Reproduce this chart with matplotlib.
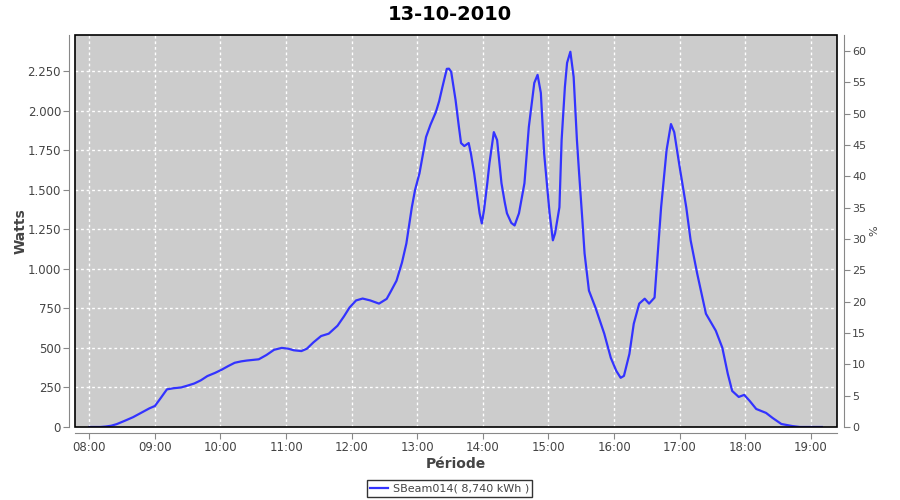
import matplotlib
matplotlib.use("Agg")
import matplotlib.pyplot as plt
from matplotlib.patches import Rectangle
from matplotlib.ticker import FuncFormatter

# Data (time of day, watts)
times = ["08:00", "08:10", "08:15", "08:20", "08:25", "08:32", "08:40", "08:48", "08:55",
         "09:00", "09:05", "09:11", "09:17", "09:24", "09:30", "09:36", "09:42", "09:48",
         "09:55", "10:01", "10:07", "10:13", "10:19", "10:24", "10:35", "10:42", "10:49",
         "10:56", "11:02", "11:07", "11:14", "11:19", "11:25", "11:32", "11:39", "11:47",
         "11:53", "11:58", "12:04", "12:10", "12:17", "12:25", "12:32", "12:36", "12:41",
         "12:46", "12:50", "12:55", "12:58", "13:02", "13:05", "13:08", "13:12", "13:17",
         "13:20", "13:23", "13:27", "13:29", "13:31", "13:35", "13:38", "13:40", "13:43",
         "13:47", "13:49", "13:52", "13:57", "13:59", "14:01", "14:04", "14:06", "14:10",
         "14:13", "14:17", "14:20", "14:22", "14:26", "14:29", "14:33", "14:38", "14:42",
         "14:47", "14:50", "14:53", "14:56", "15:01", "15:04", "15:06", "15:10", "15:12",
         "15:15", "15:17", "15:20", "15:23", "15:26", "15:28", "15:31", "15:33", "15:37",
         "15:43", "15:51", "15:57", "16:02", "16:06", "16:09", "16:14", "16:18", "16:23",
         "16:28", "16:32", "16:37", "16:39", "16:43", "16:48", "16:52", "16:55", "17:00",
         "17:06", "17:10", "17:16", "17:24", "17:33", "17:39", "17:44", "17:48", "17:54",
         "17:59", "18:04", "18:10", "18:19", "18:25", "18:33", "18:43", "18:50", "19:10"]
watts = [0, 0, 3, 8, 18, 38, 62, 92, 118,
         133, 180, 238, 245, 250, 262, 275, 295, 322,
         342, 362, 385, 406, 415, 420, 428, 455, 488,
         500, 495, 485, 480, 495, 535, 575, 590, 640,
         700, 755, 800, 812, 800, 780, 810, 860, 925,
         1040, 1160, 1389, 1500, 1604, 1720, 1833, 1910, 1991,
         2060, 2150, 2264, 2265, 2245, 2067, 1900, 1795, 1776,
         1795, 1730, 1604, 1351, 1287, 1370, 1540, 1668, 1864,
         1814, 1541, 1420, 1351, 1290, 1274, 1351, 1541, 1896,
         2175, 2226, 2112, 1731, 1351, 1180, 1224, 1389, 1814,
         2150, 2302, 2372, 2213, 1814, 1604, 1306, 1097, 862,
         754, 590, 437, 355, 311, 323, 462, 653, 780,
         811, 780, 818, 1008, 1389, 1750, 1915, 1864, 1642,
         1389, 1180, 970, 716, 609, 501, 336, 228, 190,
         203, 165, 114, 89, 57, 19, 6, 0, 0]

hour_ticks = list(range(8, 20))
watt_ticks = list(range(0, 2251, 250))
pct_ticks = list(range(0, 61, 5))

title = "13-10-2010"
series_label = "SBeam014( 8,740 kWh )"

GREY_TXT = "#444444"
AXIS_GREY = "#888888"


def to_hours(s):
    h, m = s.split(":")
    return int(h) + int(m) / 60.0


hours = [to_hours(t) for t in times]

fig = plt.figure(figsize=(9, 5), dpi=100)
ax = fig.add_axes([75 / 900, 73 / 500, 762 / 900, 392 / 500])
ax.set_facecolor("#cccccc")

ax.plot(hours, watts, color="#3333ff", lw=1.6, label=series_label, zorder=3)

ax.set_xlim(7.782, 19.398)
ax.set_ylim(0, 2478)
ax.set_xticks(hour_ticks)
ax.set_xticklabels(["%02d:00" % h for h in hour_ticks])
ax.set_yticks(watt_ticks)
ax.yaxis.set_major_formatter(FuncFormatter(lambda v, p: f"{int(v):,}".replace(",", ".")))

ax.grid(True, color="white", linestyle=(0, (2, 2)), lw=1, zorder=1)
ax.set_axisbelow(True)

for side in ["top", "right"]:
    ax.spines[side].set_visible(False)
for side in ["left", "bottom"]:
    ax.spines[side].set_position(("outward", 4))
    ax.spines[side].set_color(AXIS_GREY)
ax.tick_params(direction="out", length=4, pad=2, color=AXIS_GREY,
               labelcolor=GREY_TXT, labelsize=8.5)

ax.set_ylabel("Watts", fontsize=10, fontweight="bold", color=GREY_TXT, labelpad=0)
ax.set_xlabel("Période", fontsize=10, fontweight="bold", color=GREY_TXT, labelpad=2)

# right % axis
ax2 = ax.twinx()
ax2.set_ylim(0, 2478 / 3961 * 100)
ax2.set_yticks(pct_ticks)
for side in ["top", "left", "bottom"]:
    ax2.spines[side].set_visible(False)
ax2.spines["right"].set_position(("outward", 5))
ax2.spines["right"].set_color(AXIS_GREY)
ax2.tick_params(direction="out", length=4, pad=2, color=AXIS_GREY,
                labelcolor=GREY_TXT, labelsize=8)
ax2.set_ylabel("%", fontsize=8, color=GREY_TXT, labelpad=2)

# plot outline
ax2.add_patch(Rectangle((0, 0), 1, 1, transform=ax.transAxes, fill=False,
                        edgecolor="black", lw=1.2, clip_on=False, zorder=10))

fig.text(0.5, 0.972, title, ha="center", va="center", fontsize=14, fontweight="bold")

leg = fig.legend(loc="lower center", bbox_to_anchor=(0.4996, 0.006), fontsize=8,
                 frameon=True, fancybox=False, handlelength=1.6, borderpad=0.3,
                 handletextpad=0.4, borderaxespad=0)
leg.get_frame().set_edgecolor("black")
leg.get_frame().set_linewidth(1)
for t in leg.get_texts():
    t.set_color(GREY_TXT)

fig.savefig("out.png", dpi=100)
